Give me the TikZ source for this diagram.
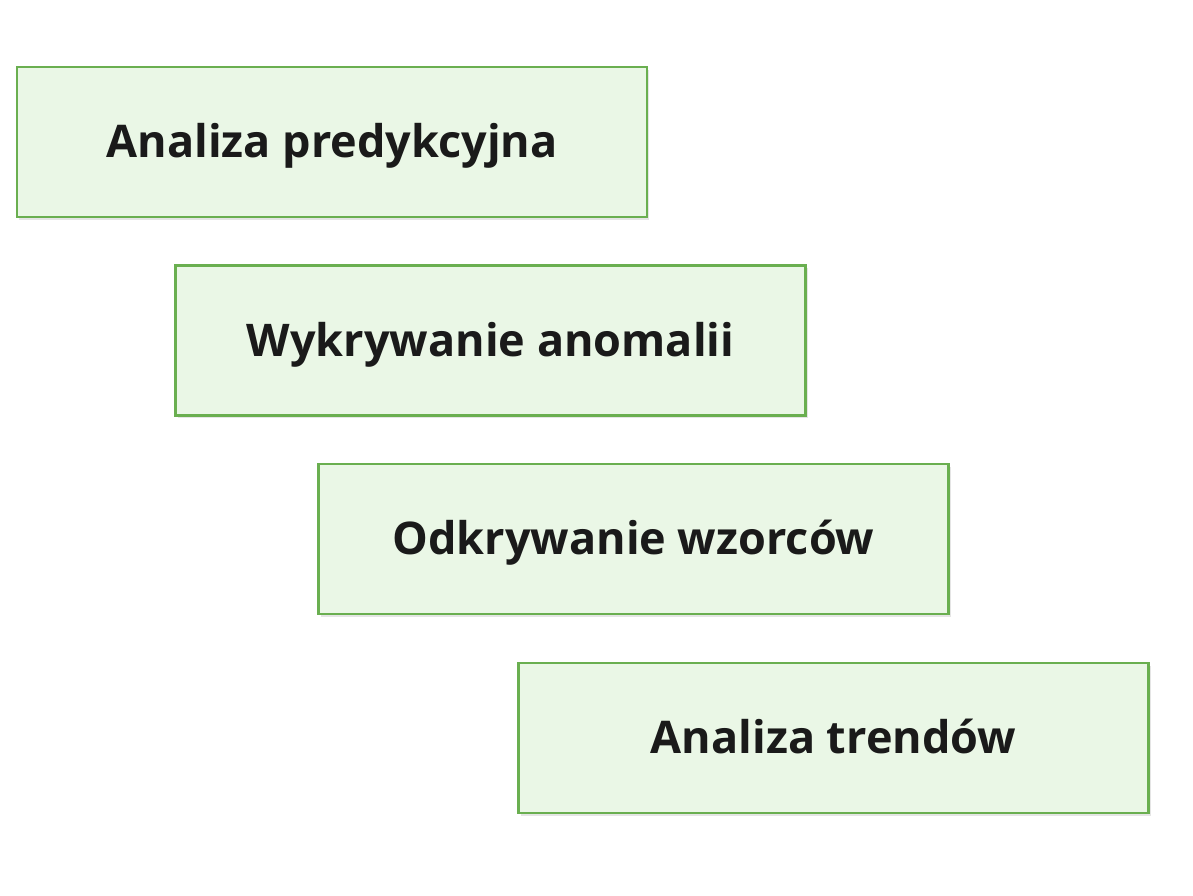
\documentclass[tikz,border=0pt]{standalone}
\usepackage{fontspec}
\setmainfont{Open Sans}
\usetikzlibrary{shadows}
\definecolor{boxfill}{HTML}{EAF7E6}
\definecolor{boxline}{HTML}{6AAF50}
\definecolor{txt}{HTML}{1A1A1A}
\begin{document}
\begin{tikzpicture}[x=1pt,y=1pt,
  stage/.style={draw=boxline, line width=2.2pt, fill=boxfill,
    minimum width=630pt, minimum height=150pt, inner sep=0pt,
    text height=32pt, text depth=0pt,
    font=\fontsize{45}{52}\selectfont\bfseries, text=txt,
    drop shadow={shadow xshift=2pt, shadow yshift=-3pt, opacity=0.25, fill=black!40}}]
\useasboundingbox[fill=white] (0,0) rectangle (1193,896);
\node[stage] (a) at (332,754) {Analiza predykcyjna};
\node[stage] (b) at (490.5,555.5) {Wykrywanie anomalii};
\node[stage] (c) at (633.5,357) {Odkrywanie wzorców};
\node[stage] (d) at (833.5,158) {Analiza trendów};
\end{tikzpicture}
\end{document}
